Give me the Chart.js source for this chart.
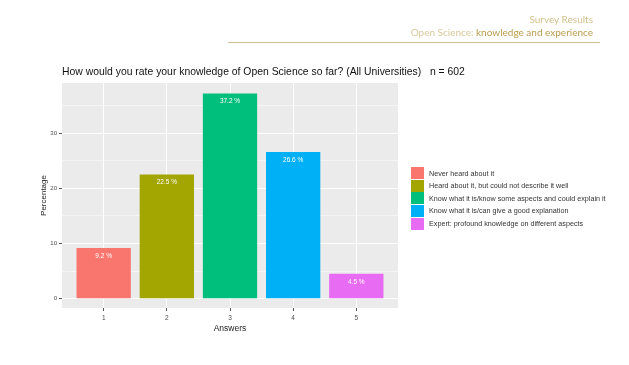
<!DOCTYPE html>
<html><head><meta charset="utf-8">
<script src="https://cdn.jsdelivr.net/npm/chart.js@4/dist/chart.umd.min.js"></script>
<style>
html,body{margin:0;padding:0;background:#fff;width:629px;height:365px;overflow:hidden;font-family:"Liberation Sans",Arial,sans-serif}
#wrap{position:relative;width:629px;height:365px}
#c{position:absolute;left:0;top:0}
.hdr{position:absolute;right:36px;font-family:Lato,"Open Sans",sans-serif;white-space:nowrap;line-height:1}
#h1{top:14px;font-size:10px;color:#d2c08e}
#h2{top:27px;font-size:10px;color:#b99c4e}
#h2 span{color:#d8c89c}
#rule{position:absolute;left:228px;top:42px;width:372px;height:1px;background:#cdbf93}
#title{position:absolute;left:62px;top:66px;font-size:10.4px;color:#111;white-space:pre}
#legend{position:absolute;left:411px;top:167px}
.row{position:absolute;left:0;height:12.6px;white-space:nowrap}
.key{position:absolute;left:0;top:0.3px;width:12.6px;height:12px}
.lt{position:absolute;left:18px;top:2.6px;font-size:7.2px;color:#333;line-height:1}
</style>
</head><body>
<div id="wrap">
<canvas id="c" width="629" height="365"></canvas>
<div class="hdr" id="h1">Survey Results</div>
<div class="hdr" id="h2"><span>Open Science:</span> knowledge and experience</div>
<div id="rule"></div>
<div id="title"></div>
<div id="legend"></div>
</div>
<script>
const categories = [1, 2, 3, 4, 5];
const answerLabels = [
  'Never heard about it',
  'Heard about it, but could not describe it well',
  'Know what it is/know some aspects and could explain it',
  'Know what it is/can give a good explanation',
  'Expert: profound knowledge on different aspects'
];
const percentages = [9.2, 22.5, 37.2, 26.6, 4.5];
const barColors = ['#F8766D', '#A3A500', '#00BF7D', '#00B0F6', '#E76BF3'];
const yMajorTicks = [0, 10, 20, 30];
const yMinorTicks = [5, 15, 25, 35];
const chartTitle = 'How would you rate your knowledge of Open Science so far? (All Universities)   n = 602';

document.getElementById('title').textContent = chartTitle;
const leg = document.getElementById('legend');
answerLabels.forEach((lab, i) => {
  const r = document.createElement('div');
  r.className = 'row';
  r.style.top = (i * 12.6) + 'px';
  r.innerHTML = '<div class="key" style="background:' + barColors[i] + '"></div><div class="lt"></div>';
  r.querySelector('.lt').textContent = lab;
  leg.appendChild(r);
});

const panelBg = {
  id: 'panelBg',
  beforeDraw(chart) {
    const a = chart.chartArea, c = chart.ctx;
    c.save();
    c.fillStyle = '#EBEBEB';
    c.fillRect(a.left, a.top, a.right - a.left, a.bottom - a.top);
    c.restore();
  }
};
const barLabels = {
  id: 'barLabels',
  afterDatasetsDraw(chart) {
    const c = chart.ctx;
    const meta = chart.getDatasetMeta(0);
    c.save();
    c.fillStyle = '#ffffff';
    c.font = '6.5px "Liberation Sans", Arial, sans-serif';
    c.textAlign = 'center';
    c.textBaseline = 'middle';
    meta.data.forEach((bar, i) => {
      c.fillText(percentages[i] + ' %', bar.x, bar.y + 8);
    });
    c.restore();
  }
};

const allY = yMajorTicks.concat(yMinorTicks).sort((a, b) => a - b);

new Chart(document.getElementById('c'), {
  type: 'bar',
  data: {
    datasets: [{
      data: categories.map((c, i) => ({ x: c, y: percentages[i] })),
      backgroundColor: barColors,
      borderWidth: 0,
      barPercentage: 0.86,
      categoryPercentage: 1
    }]
  },
  options: {
    responsive: false,
    animation: false,
    layout: { padding: { left: 32, right: 231, top: 83, bottom: 30 } },
    plugins: { legend: { display: false }, tooltip: { enabled: false } },
    scales: {
      x: {
        type: 'linear',
        offset: false,
        min: 0.34, max: 5.66,
        afterBuildTicks: s => { s.ticks = categories.map(v => ({ value: v })); },
        afterFit: s => { s.height = 27; },
        border: { display: false },
        grid: { offset: false, color: '#ffffff', lineWidth: 1, tickColor: '#555', tickLength: 3 },
        ticks: { color: '#4d4d4d', font: { size: 6.5, family: '"Liberation Sans", Arial' }, padding: 3, maxRotation: 0, callback: v => String(v) },
        title: { display: true, text: 'Answers', color: '#222', font: { size: 8.5, family: '"Liberation Sans", Arial' }, padding: { top: 0, bottom: 1 } }
      },
      y: {
        min: -1.7, max: 39.1,
        afterBuildTicks: s => { s.ticks = allY.map(v => ({ value: v })); },
        afterFit: s => { s.width = 30; },
        border: { display: false },
        grid: {
          color: '#ffffff',
          lineWidth: c => yMajorTicks.includes(c.tick && c.tick.value) ? 1 : 0.5,
          tickColor: c => yMajorTicks.includes(c.tick && c.tick.value) ? '#555' : 'rgba(0,0,0,0)',
          tickLength: 3
        },
        ticks: { color: '#4d4d4d', font: { size: 6, family: '"Liberation Sans", Arial' }, padding: 2, callback: v => yMajorTicks.includes(v) ? String(v) : '' },
        title: { display: true, text: 'Percentage', color: '#222', font: { size: 8, family: '"Liberation Sans", Arial' }, padding: { top: 7, bottom: 0 } }
      }
    }
  },
  plugins: [panelBg, barLabels]
});
</script>
</body></html>
